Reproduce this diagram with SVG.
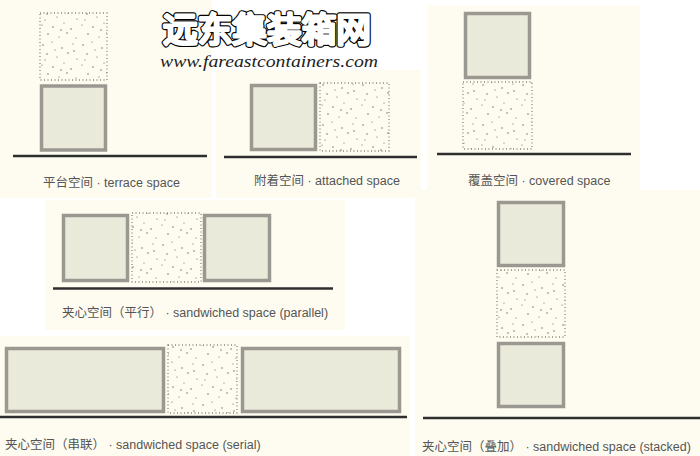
<svg xmlns="http://www.w3.org/2000/svg" width="700" height="456" viewBox="0 0 700 456">
<defs>
<pattern id="speckle" patternUnits="userSpaceOnUse" width="40" height="40">
<g fill="#5e5b4c">
<circle cx="3" cy="5" r="0.7"/><circle cx="12" cy="2" r="0.6"/><circle cx="22" cy="8" r="0.7"/><circle cx="33" cy="4" r="0.6"/>
<circle cx="7" cy="14" r="0.7"/><circle cx="17" cy="17" r="0.6"/><circle cx="28" cy="13" r="0.7"/><circle cx="37" cy="19" r="0.6"/>
<circle cx="2" cy="25" r="0.6"/><circle cx="13" cy="27" r="0.7"/><circle cx="24" cy="23" r="0.6"/><circle cx="31" cy="29" r="0.7"/>
<circle cx="8" cy="34" r="0.7"/><circle cx="19" cy="37" r="0.6"/><circle cx="27" cy="33" r="0.7"/><circle cx="36" cy="38" r="0.6"/>
<circle cx="15" cy="10" r="0.6"/><circle cx="34" cy="11" r="0.7"/><circle cx="5" cy="20" r="0.6"/><circle cx="21" cy="30" r="0.7"/>
</g>
</pattern>
</defs>
<style>
.bg{fill:#fefcf1}
.solid{fill:#eaeada;stroke:#9b9891;stroke-width:3.5}
.open{fill:url(#speckle);stroke:#8a8676;stroke-width:1.3;stroke-dasharray:1 2.5}
.ground{stroke:#2e2e2e;stroke-width:2.5}
.lbl{font-family:"Liberation Sans","Noto Sans CJK SC",sans-serif;font-size:12.5px;fill:#555}
.wm{font-family:"Noto Sans CJK SC",sans-serif;font-weight:400;font-size:34px;stroke-linejoin:round;stroke-linecap:round}
</style>
<rect width="700" height="456" fill="#ffffff"/>
<g id="backgrounds">
<rect class="bg" x="0" y="0" width="212" height="198"/>
<rect class="bg" x="216" y="70" width="205" height="128"/>
<rect class="bg" x="427" y="5" width="213" height="188"/>
<rect class="bg" x="45" y="200" width="300" height="130"/>
<rect class="bg" x="0" y="336" width="410" height="120"/>
<rect class="bg" x="415" y="190" width="285" height="266"/>
</g>
<g id="watermark">
<text class="wm" x="163" y="42" textLength="208" lengthAdjust="spacingAndGlyphs" fill="#000" stroke="#000" stroke-width="5.5">远东集装箱网</text>
<text class="wm" x="163" y="42" textLength="208" lengthAdjust="spacingAndGlyphs" fill="#fff" stroke="#fff" stroke-width="3.2">远东集装箱网</text>
<text x="160" y="67" textLength="218" lengthAdjust="spacingAndGlyphs" font-family="Liberation Serif, serif" font-style="italic" font-size="17" fill="#222">www.fareastcontainers.com</text>
</g>
<g id="ground-lines">
<line class="ground" x1="13" y1="156" x2="207" y2="156"/>
<line class="ground" x1="224" y1="157" x2="417" y2="157"/>
<line class="ground" x1="437" y1="154" x2="631" y2="154"/>
<line class="ground" x1="53" y1="288.5" x2="333" y2="288.5"/>
<line class="ground" x1="0" y1="417" x2="407" y2="417"/>
<line class="ground" x1="423" y1="418" x2="700" y2="418"/>
</g>
<g id="terrace">
<rect class="open" x="40" y="13" width="67" height="67"/>
<rect class="solid" x="41.5" y="86" width="64" height="64"/>
<text class="lbl" x="43" y="187">平台空间 · terrace space</text>
</g>
<g id="attached">
<rect class="solid" x="251.5" y="85.5" width="64" height="64"/>
<rect class="open" x="320" y="83" width="69" height="68"/>
<text class="lbl" x="254" y="185">附着空间 · attached space</text>
</g>
<g id="covered">
<rect class="solid" x="465.5" y="13.5" width="64" height="64"/>
<rect class="open" x="463" y="82" width="69" height="67"/>
<text class="lbl" x="468" y="185">覆盖空间 · covered space</text>
</g>
<g id="parallel">
<rect class="solid" x="63.5" y="215.5" width="64" height="65"/>
<rect class="open" x="132" y="213" width="69" height="69"/>
<rect class="solid" x="204.5" y="215.5" width="65" height="65"/>
<text class="lbl" x="62" y="317">夹心空间（平行） · sandwiched space (parallel)</text>
</g>
<g id="serial">
<rect class="solid" x="6.5" y="348.5" width="157" height="63"/>
<rect class="open" x="168" y="345" width="69" height="68"/>
<rect class="solid" x="242.5" y="348.5" width="157" height="63"/>
<text class="lbl" x="5" y="449">夹心空间（串联） · sandwiched space (serial)</text>
</g>
<g id="stacked">
<rect class="solid" x="498.5" y="202.5" width="65" height="63"/>
<rect class="open" x="497" y="270" width="68" height="67"/>
<rect class="solid" x="498.5" y="343.5" width="65" height="63"/>
<text class="lbl" x="422" y="451">夹心空间（叠加） · sandwiched space (stacked)</text>
</g>
</svg>
